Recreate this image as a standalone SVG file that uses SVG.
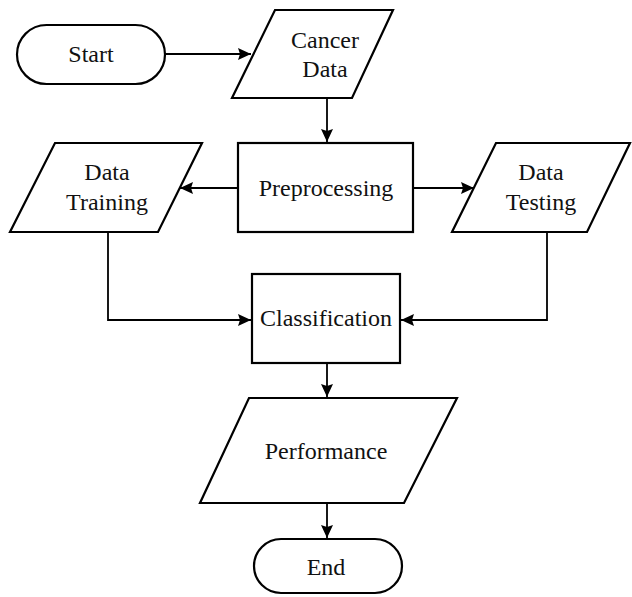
<svg xmlns="http://www.w3.org/2000/svg" width="632" height="597" viewBox="0 0 632 597">
<style>
.s{fill:#fff;stroke:#000;stroke-width:2.2}
.t{font-family:"Liberation Serif","Times New Roman",serif;font-size:24px;fill:#111;text-anchor:middle}
.c{fill:none;stroke:#000;stroke-width:1.8}
</style>
<defs>
<marker id="a" markerWidth="14" markerHeight="12" refX="13" refY="6" orient="auto" markerUnits="userSpaceOnUse">
<path d="M0,0 L13,6 L0,12 L2,6 Z" fill="#000"/>
</marker>
</defs>
<rect width="632" height="597" fill="#fff"/>
<g id="connectors">
<path class="c" d="M165,54 H251" marker-end="url(#a)"/>
<path class="c" d="M327,98 V142" marker-end="url(#a)"/>
<path class="c" d="M238,188 H180" marker-end="url(#a)"/>
<path class="c" d="M413,188 H474" marker-end="url(#a)"/>
<path class="c" d="M108,232 V320 H251" marker-end="url(#a)"/>
<path class="c" d="M547,232 V320 H401" marker-end="url(#a)"/>
<path class="c" d="M327,364 V397" marker-end="url(#a)"/>
<path class="c" d="M327,503 V538" marker-end="url(#a)"/>
</g>
<g id="start">
<rect class="s" x="17" y="25" width="148" height="59" rx="29.5"/>
<text class="t" x="91" y="62">Start</text>
</g>
<g id="cancer-data">
<polygon class="s" points="275,10 393,10 352,98 232,98"/>
<text class="t" x="325" y="48">Cancer</text>
<text class="t" x="325" y="77">Data</text>
</g>
<g id="preprocessing">
<rect class="s" x="238" y="143" width="175" height="89"/>
<text class="t" x="326" y="196">Preprocessing</text>
</g>
<g id="data-training">
<polygon class="s" points="55,143 202,143 158,232 10,232"/>
<text class="t" x="107" y="180">Data</text>
<text class="t" x="107" y="210">Training</text>
</g>
<g id="data-testing">
<polygon class="s" points="496,143 630,143 587,232 452,232"/>
<text class="t" x="541" y="180">Data</text>
<text class="t" x="541" y="210">Testing</text>
</g>
<g id="classification">
<rect class="s" x="252" y="274" width="148" height="89"/>
<text class="t" x="326" y="326">Classification</text>
</g>
<g id="performance">
<polygon class="s" points="249,398 457,398 404,503 200,503"/>
<text class="t" x="326" y="459">Performance</text>
</g>
<g id="end">
<rect class="s" x="254" y="539" width="148" height="54" rx="27"/>
<text class="t" x="326" y="575">End</text>
</g>
</svg>
